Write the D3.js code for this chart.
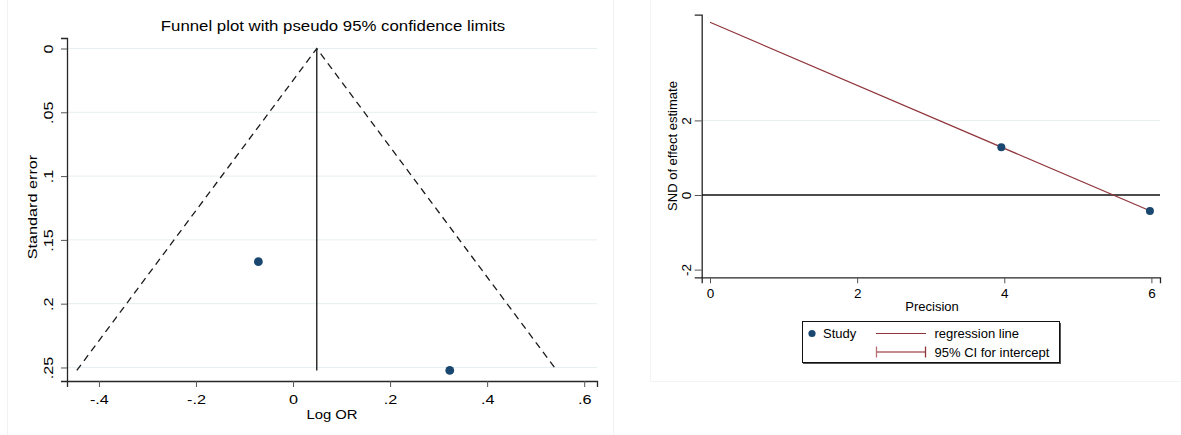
<!DOCTYPE html>
<html>
<head>
<meta charset="utf-8">
<script src="https://cdn.jsdelivr.net/npm/d3@7"></script>
<style>
  html, body { margin: 0; padding: 0; background: #fff; }
  svg { display: block; }
  text { font-family: "Liberation Sans", Arial, sans-serif; fill: #000; }
</style>
</head>
<body>
<svg id="chart" width="1181" height="435"></svg>
<script>
// Study-level estimates
const logOR = [-0.0714, 0.323];
const seLogOR = [0.1671, 0.2523];
const pooledLogOR = 0.0489;

// Egger regression view of the same studies
const precision = [5.98, 3.96];
const sndEstimate = [-0.43, 1.28];
const eggerIntercept = 4.63;
const eggerSlope = -0.845;

// Tick values and labels
const seTicks = [0, 0.05, 0.1, 0.15, 0.2, 0.25];
const seTickLabels = ["0", ".05", ".1", ".15", ".2", ".25"];
const logTicks = [-0.4, -0.2, 0, 0.2, 0.4, 0.6];
const logTickLabels = ["-.4", "-.2", "0", ".2", ".4", ".6"];
const precTicks = [0, 2, 4, 6];
const precTickLabels = ["0", "2", "4", "6"];
const sndTicks = [-2, 0, 2];
const sndTickLabels = ["-2", "0", "2"];

const navy = "#1a476f";
const maroon = "#90353b";
const grid = "#e6eff1";
const axisCol = "#262626";
const FONT = "Liberation Sans, Arial, sans-serif";
const WIDE = 1.2; // glyph widening used in the funnel panel

const svg = d3.select("#chart");

// faint graph-region frames
svg.append("line").attr("x1", 7.5).attr("x2", 7.5).attr("y1", 0).attr("y2", 435)
  .attr("stroke", "#f1f3f3").attr("stroke-width", 1);
svg.append("line").attr("x1", 613.5).attr("x2", 613.5).attr("y1", 0).attr("y2", 435)
  .attr("stroke", "#f1f3f3").attr("stroke-width", 1);
svg.append("path").attr("d", "M650.5,0V381.5H1181")
  .attr("fill", "none").attr("stroke", "#f3f5f5").attr("stroke-width", 1);

/* ---------- Funnel plot ---------- */
const fx = d3.scaleLinear().domain([-0.4658, 0.6264]).range([67, 597]);
const fy = d3.scaleLinear().domain([-0.00823, 0.2606]).range([38, 381]);

const left = svg.append("g");

// gridlines
left.selectAll(".grid").data(seTicks).join("line")
  .attr("x1", 67).attr("x2", 597)
  .attr("y1", d => fy(d)).attr("y2", d => fy(d))
  .attr("stroke", grid).attr("stroke-width", 1);

// y axis
const fyAxis = d3.axisLeft(fy).tickValues(seTicks).tickSize(6).tickPadding(0)
  .tickFormat((d, i) => seTickLabels[i]);
const gfy = left.append("g").attr("transform", "translate(67,0)").call(fyAxis);
gfy.select(".domain").attr("stroke", axisCol).attr("stroke-width", 1.3);
gfy.selectAll(".tick line").attr("stroke", "#555");
gfy.selectAll(".tick text").attr("transform", `rotate(-90) scale(${WIDE},1)`)
  .attr("x", 0).attr("y", -13.7).attr("dy", 0)
  .attr("text-anchor", "middle")
  .style("font-size", "13.5px").style("font-family", FONT).attr("fill", "#000");

// x axis
const fxAxis = d3.axisBottom(fx).tickValues(logTicks).tickSize(6).tickPadding(0)
  .tickFormat((d, i) => logTickLabels[i]);
const gfx = left.append("g").attr("transform", "translate(0,381)").call(fxAxis);
gfx.select(".domain").attr("stroke", axisCol).attr("stroke-width", 1.3);
gfx.selectAll(".tick line").attr("stroke", "#555");
gfx.selectAll(".tick text").attr("transform", `scale(${WIDE},1)`)
  .attr("y", 23).attr("dy", 0)
  .style("font-size", "13.5px").style("font-family", FONT).attr("fill", "#000");

// pseudo 95% limits
const seMax = d3.max(seLogOR);
const funnel = [
  [pooledLogOR - 1.96 * seMax, seMax],
  [pooledLogOR, 0],
  [pooledLogOR + 1.96 * seMax, seMax]
];
left.append("path")
  .attr("d", d3.line().x(d => fx(d[0])).y(d => fy(d[1]))(funnel))
  .attr("fill", "none").attr("stroke", "#1a1a1a").attr("stroke-width", 1.3)
  .attr("stroke-dasharray", "7,5");

// pooled estimate
left.append("line")
  .attr("x1", fx(pooledLogOR)).attr("x2", fx(pooledLogOR))
  .attr("y1", fy(0)).attr("y2", fy(seMax))
  .attr("stroke", "#222").attr("stroke-width", 1.4);

// studies
left.selectAll(".study").data(logOR).join("circle")
  .attr("cx", d => fx(d)).attr("cy", (d, i) => fy(seLogOR[i]))
  .attr("r", 4.4).attr("fill", navy);

left.append("text").attr("transform", `translate(333,31) scale(${WIDE},1)`)
  .attr("text-anchor", "middle")
  .style("font-size", "14px").text("Funnel plot with pseudo 95% confidence limits");
left.append("text").attr("transform", `translate(332,418.5) scale(1.1,1)`)
  .attr("text-anchor", "middle")
  .style("font-size", "13.5px").text("Log OR");
left.append("text").attr("transform", `translate(37,207) rotate(-90) scale(${WIDE},1)`)
  .attr("text-anchor", "middle").style("font-size", "13.5px").text("Standard error");

/* ---------- Egger plot ---------- */
const ex = d3.scaleLinear().domain([-0.113, 6.117]).range([701.7, 1160]);
const ey = d3.scaleLinear().domain([-2.206, 4.834]).range([277.3, 14.7]);

const right = svg.append("g");

right.append("line").attr("x1", 702).attr("x2", 1160)
  .attr("y1", ey(2)).attr("y2", ey(2)).attr("stroke", grid);

const eyAxis = d3.axisLeft(ey).tickValues(sndTicks).tickSize(7).tickPadding(0)
  .tickFormat((d, i) => sndTickLabels[i]);
const gey = right.append("g").attr("transform", "translate(701.7,0)").call(eyAxis);
gey.select(".domain").attr("stroke", axisCol).attr("stroke-width", 1.3);
gey.selectAll(".tick line").attr("stroke", "#555");
gey.selectAll(".tick text").attr("transform", "rotate(-90)")
  .attr("x", 0).attr("y", -10.5).attr("dy", 0)
  .attr("text-anchor", "middle")
  .style("font-size", "13.5px").style("font-family", FONT).attr("fill", "#000");

const exAxis = d3.axisBottom(ex).tickValues(precTicks).tickSize(6).tickPadding(0)
  .tickFormat((d, i) => precTickLabels[i]);
const gex = right.append("g").attr("transform", "translate(0,277.3)").call(exAxis);
gex.select(".domain").attr("stroke", axisCol).attr("stroke-width", 1.3);
gex.selectAll(".tick line").attr("stroke", "#555");
gex.selectAll(".tick text").attr("y", 20.5).attr("dy", 0)
  .style("font-size", "13.5px").style("font-family", FONT).attr("fill", "#000");

// reference line at zero
right.append("line").attr("x1", 702).attr("x2", 1160)
  .attr("y1", ey(0)).attr("y2", ey(0)).attr("stroke", "#111").attr("stroke-width", 1.3);

// regression line
const pMax = d3.max(precision);
right.append("line")
  .attr("x1", ex(0)).attr("y1", ey(eggerIntercept))
  .attr("x2", ex(pMax)).attr("y2", ey(eggerIntercept + eggerSlope * pMax))
  .attr("stroke", maroon).attr("stroke-width", 1.2);

right.selectAll(".study").data(precision).join("circle")
  .attr("cx", d => ex(d)).attr("cy", (d, i) => ey(sndEstimate[i]))
  .attr("r", 4).attr("fill", navy);

right.append("text").attr("x", 932).attr("y", 311).attr("text-anchor", "middle")
  .style("font-size", "13px").text("Precision");
right.append("text").attr("transform", "translate(677,146) rotate(-90)")
  .attr("text-anchor", "middle").style("font-size", "13px").text("SND of effect estimate");

// legend
const lg = right.append("g");
lg.append("rect").attr("x", 803).attr("y", 323).attr("width", 258).attr("height", 41)
  .attr("fill", "#555");
lg.append("rect").attr("x", 802.5).attr("y", 321.5).attr("width", 257).attr("height", 41)
  .attr("fill", "#fff").attr("stroke", "#111").attr("stroke-width", 1);
lg.append("circle").attr("cx", 812).attr("cy", 333.5).attr("r", 3.6).attr("fill", navy);
lg.append("text").attr("x", 823).attr("y", 338).style("font-size", "13px").text("Study");
lg.append("line").attr("x1", 876).attr("x2", 926).attr("y1", 333.5).attr("y2", 333.5)
  .attr("stroke", maroon).attr("stroke-width", 1.2);
lg.append("text").attr("x", 934.5).attr("y", 338).style("font-size", "13px").text("regression line");
lg.append("line").attr("x1", 876).attr("x2", 926).attr("y1", 352).attr("y2", 352)
  .attr("stroke", "#c48a8e").attr("stroke-width", 2);
lg.append("line").attr("x1", 876.5).attr("x2", 876.5).attr("y1", 346.5).attr("y2", 357.5)
  .attr("stroke", "#b86d72").attr("stroke-width", 1.3);
lg.append("line").attr("x1", 925.5).attr("x2", 925.5).attr("y1", 346.5).attr("y2", 357.5)
  .attr("stroke", maroon).attr("stroke-width", 1.3);
lg.append("text").attr("x", 934.5).attr("y", 356.5).style("font-size", "13px").text("95% CI for intercept");
</script>
</body>
</html>
